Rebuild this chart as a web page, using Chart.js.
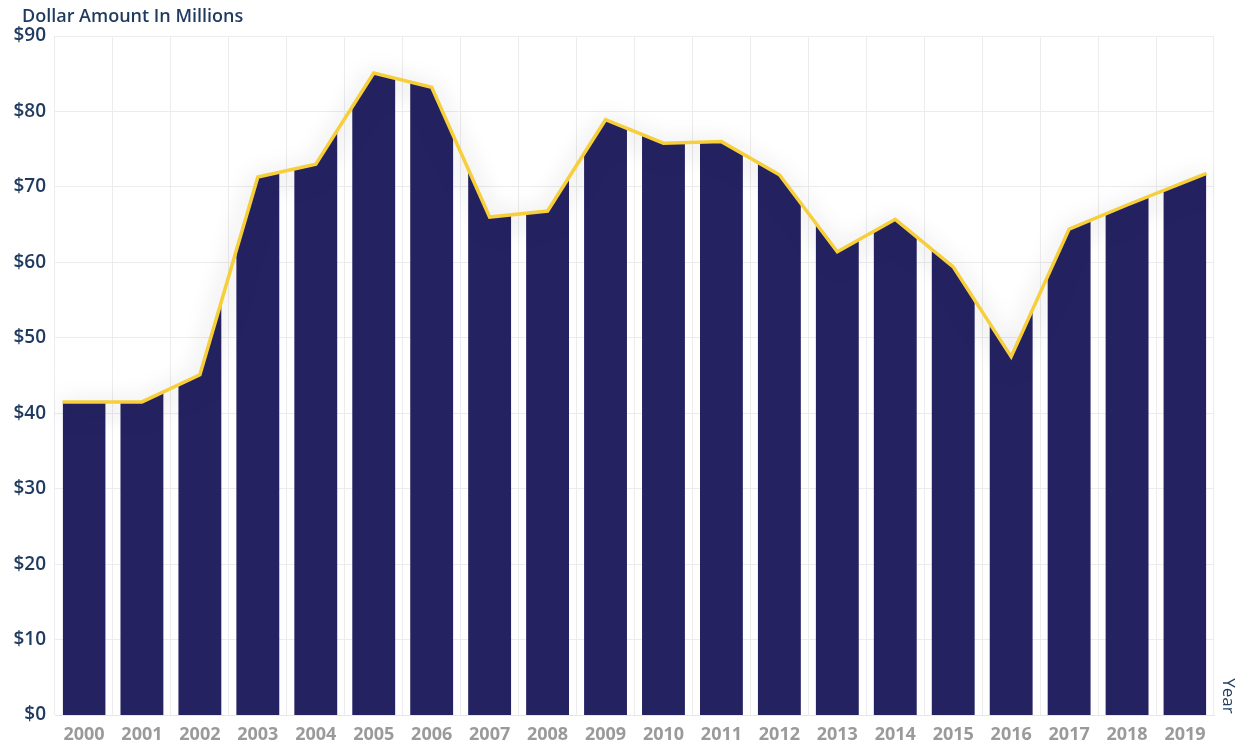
<!DOCTYPE html>
<html>
<head>
<meta charset="utf-8">
<script src="https://cdn.jsdelivr.net/npm/chart.js@4.4.1/dist/chart.umd.min.js"></script>
<style>
html, body { margin: 0; padding: 0; background: #fff; }
#wrap { width: 1241px; height: 742px; }
</style>
</head>
<body>
<div id="wrap"><canvas id="theGraph"></canvas></div>
<script>
// years on the x-axis
var years = ["2000", "2001", "2002", "2003", "2004", "2005", "2006", "2007", "2008", "2009",
             "2010", "2011", "2012", "2013", "2014", "2015", "2016", "2017", "2018", "2019"];
// dollar amount in millions
var amounts = [41.5, 41.5, 45.1, 71.3, 73.0, 85.1, 83.2, 66.0, 66.8, 78.9,
               75.8, 76.0, 71.6, 61.4, 65.7, 59.4, 47.5, 64.4, 67.6, 71.8];
// y-axis range
var yMin = 0;
var yMax = 90;
var yStep = 10;

var navy = "#252262";
var gold = "#f6cf3b";
var barFrac = 0.74;

// left / right pixel of the column for year i
function barEdges(chart, i) {
    var x = chart.scales.x;
    var w = x.width / years.length * barFrac;
    var c = x.getPixelForValue(i);
    return [c - w / 2, c + w / 2];
}

var columns = {
    id: "columns",
    // stretch the first and last point out to the column edges
    afterDatasetsUpdate: function (chart) {
        chart.data.datasets.forEach(function (ds, d) {
            var pts = chart.getDatasetMeta(d).data;
            if (!pts.length) return;
            pts[0].x = barEdges(chart, 0)[0];
            pts[pts.length - 1].x = barEdges(chart, pts.length - 1)[1];
        });
    },
    // the navy area only shows inside the columns
    beforeDatasetsDraw: function (chart) {
        var ctx = chart.ctx, area = chart.chartArea;
        ctx.save();
        ctx.beginPath();
        for (var i = 0; i < years.length; i++) {
            var e = barEdges(chart, i);
            ctx.rect(e[0], area.top, e[1] - e[0], area.bottom - area.top);
        }
        ctx.clip();
    },
    beforeDatasetDraw: function (chart, args) {
        if (args.index === 0) {
            var ctx = chart.ctx;
            ctx.save();
            ctx.shadowColor = "rgba(30,30,60,0.38)";
            ctx.shadowBlur = 24;
            ctx.shadowOffsetY = 6;
        }
    },
    afterDatasetDraw: function (chart, args) {
        chart.ctx.restore();
    },
    afterDraw: function (chart) {
        var ctx = chart.ctx;
        ctx.save();
        ctx.fillStyle = "#1e3a5f";
        ctx.font = "600 18px 'Open Sans'";
        ctx.textBaseline = "middle";
        ctx.fillText("Dollar Amount In Millions", 22, 17);
        ctx.font = "500 17px 'Open Sans'";
        ctx.translate(1228, 696);
        ctx.rotate(Math.PI / 2);
        ctx.textAlign = "center";
        ctx.fillText("Year", 0, 0);
        ctx.restore();
    }
};

var ctx = document.getElementById("theGraph");

var graph = new Chart(ctx, {
    type: "line",
    data: {
        labels: years,
        datasets: [
            {
                data: amounts,
                borderColor: gold,
                borderWidth: 3.5,
                pointRadius: 0,
                fill: false,
                tension: 0,
                order: 1
            },
            {
                data: amounts,
                backgroundColor: navy,
                borderWidth: 0,
                pointRadius: 0,
                fill: "origin",
                tension: 0,
                order: 2
            }
        ]
    },
    options: {
        responsive: true,
        maintainAspectRatio: false,
        animation: false,
        layout: { padding: { top: 36, right: 27, bottom: 0, left: 0 } },
        plugins: {
            legend: { display: false },
            tooltip: { enabled: false }
        },
        scales: {
            x: {
                offset: true,
                grid: { offset: true, color: "#ececec", drawTicks: false },
                border: { color: "#e6e6e6" },
                afterFit: function (s) { s.height = 27; },
                ticks: {
                    color: "#9a9a9a",
                    padding: 9,
                    font: { family: "'Open Sans'", size: 18, weight: "bold" }
                }
            },
            y: {
                min: yMin,
                max: yMax,
                grid: { color: "#ececec", drawTicks: false },
                border: { display: false },
                afterFit: function (s) { s.width = 55; },
                ticks: {
                    stepSize: yStep,
                    color: "#1e3a5f",
                    padding: 9,
                    font: { family: "'Open Sans'", size: 19, weight: "600" },
                    callback: function (v) { return "$" + v; }
                }
            }
        }
    },
    plugins: [columns]
});
</script>
</body>
</html>
